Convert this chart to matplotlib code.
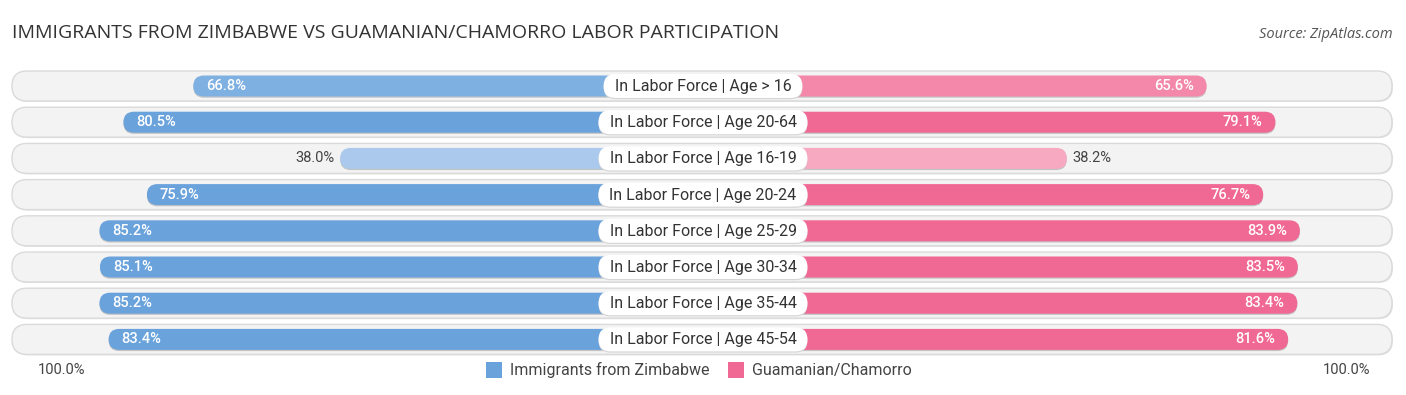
#!/usr/bin/env python3
# Labor participation: Immigrants from Zimbabwe vs Guamanian/Chamorro
import matplotlib
matplotlib.use("Agg")
import matplotlib.pyplot as plt
from matplotlib.patches import FancyBboxPatch, Rectangle

categories = [
    "In Labor Force | Age > 16",
    "In Labor Force | Age 20-64",
    "In Labor Force | Age 16-19",
    "In Labor Force | Age 20-24",
    "In Labor Force | Age 25-29",
    "In Labor Force | Age 30-34",
    "In Labor Force | Age 35-44",
    "In Labor Force | Age 45-54",
]
zimbabwe = [66.8, 80.5, 38.0, 75.9, 85.2, 85.1, 85.2, 83.4]
guamanian = [65.6, 79.1, 38.2, 76.7, 83.9, 83.5, 83.4, 81.6]
series_names = ["Immigrants from Zimbabwe", "Guamanian/Chamorro"]

W, H = 1406, 395
CX = 703          # centre line (px)
OFFSET = 169      # bar part hidden behind the label
SCALE = 5.1       # px per percent
ROW0, ROW_STEP = 86, 36.2
BAR_H = 21

blue = "#6aa2dc"
pink = "#f06894"
blue_light = "#aac9ec"
pink_light = "#f6a9c1"
blue_mid = "#7fb0e2"
pink_mid = "#f488aa"


def bar_len(v):
    return OFFSET + SCALE * v


def pill(x, y, w, h, fc, z, ec="none", lw=0):
    return FancyBboxPatch((x, y), w, h, boxstyle=f"round,pad=0,rounding_size={h / 2}",
                          fc=fc, ec=ec, lw=lw, zorder=z)


fig = plt.figure(figsize=(W / 100, H / 100), dpi=100)
ax = fig.add_axes([0, 0, 1, 1])
ax.set_xlim(0, W)
ax.set_ylim(H, 0)
ax.axis("off")

fig.text(12 / W, 1 - 33 / H, "IMMIGRANTS FROM ZIMBABWE VS GUAMANIAN/CHAMORRO LABOR PARTICIPATION",
         fontsize=14, family="Open Sans", color="#333333", va="center", ha="left")
fig.text(1393 / W, 1 - 34 / H, "Source: ZipAtlas.com", fontsize=10.5, family="Open Sans",
         style="italic", color="#555555", va="center", ha="right")

renderer = fig.canvas.get_renderer()

for i, (cat, lv, rv) in enumerate(zip(categories, zimbabwe, guamanian)):
    y = ROW0 + i * ROW_STEP
    # background pill with soft shadow
    ax.add_patch(pill(13, y - 14, 1380, 30, "#e2e2e2", 1))
    ax.add_patch(pill(12, y - 15, 1380, 30, "#f3f3f3", 1.5, ec="#dadada", lw=1))

    if lv < 50:
        lc, rc = blue_light, pink_light
    elif i == 0:
        lc, rc = blue_mid, pink_mid
    else:
        lc, rc = blue, pink

    lw_ = bar_len(lv)
    rw_ = bar_len(rv)
    # left / right bars with a faint shadow
    ax.add_patch(pill(CX - lw_, y - BAR_H / 2 + 1.2, lw_, BAR_H, "#c4c4c4", 2))
    ax.add_patch(pill(CX - lw_, y - BAR_H / 2, lw_, BAR_H, lc, 2.5))
    ax.add_patch(pill(CX, y - BAR_H / 2 + 1.2, rw_, BAR_H, "#c4c4c4", 2))
    ax.add_patch(pill(CX, y - BAR_H / 2, rw_, BAR_H, rc, 2.5))

    # value labels
    if lv < 50:
        ax.text(CX - lw_ - 6, y, f"{lv:.1f}%", ha="right", va="center",
                fontsize=10.5, color="#444444", family="Roboto", zorder=4)
        ax.text(CX + rw_ + 6, y, f"{rv:.1f}%", ha="left", va="center",
                fontsize=10.5, color="#444444", family="Roboto", zorder=4)
    else:
        ax.text(CX - lw_ + 13, y, f"{lv:.1f}%", ha="left", va="center",
                fontsize=10.5, color="white", family="Roboto", fontweight="medium", zorder=4)
        ax.text(CX + rw_ - 13, y, f"{rv:.1f}%", ha="right", va="center",
                fontsize=10.5, color="white", family="Roboto", fontweight="medium", zorder=4)

    # centre label on a white pill sized to the text
    t = ax.text(CX, y + 0.5, cat, ha="center", va="center", fontsize=11.5, color="#333333",
                family="Roboto", zorder=5)
    tw = t.get_window_extent(renderer).width
    bw, bh = tw + 22, 24
    ax.add_patch(pill(CX - bw / 2, y - bh / 2 + 1.2, bw, bh, "#d6d6d6", 4.4))
    ax.add_patch(pill(CX - bw / 2, y - bh / 2, bw, bh, "white", 4.5))

# bottom axis labels and legend
ly = 370
ax.text(38, ly, "100.0%", ha="left", va="center", fontsize=10.5, color="#444444", family="Roboto")
ax.text(1370, ly, "100.0%", ha="right", va="center", fontsize=10.5, color="#444444", family="Roboto")

ax.add_patch(Rectangle((486, ly - 8), 16, 16, fc=blue, ec="none"))
ax.text(510, ly, series_names[0], ha="left", va="center", fontsize=11.5, color="#444444", family="Roboto")
ax.add_patch(Rectangle((728, ly - 8), 16, 16, fc=pink, ec="none"))
ax.text(752, ly, series_names[1], ha="left", va="center", fontsize=11.5, color="#444444", family="Roboto")

fig.savefig("out.png", dpi=100)
